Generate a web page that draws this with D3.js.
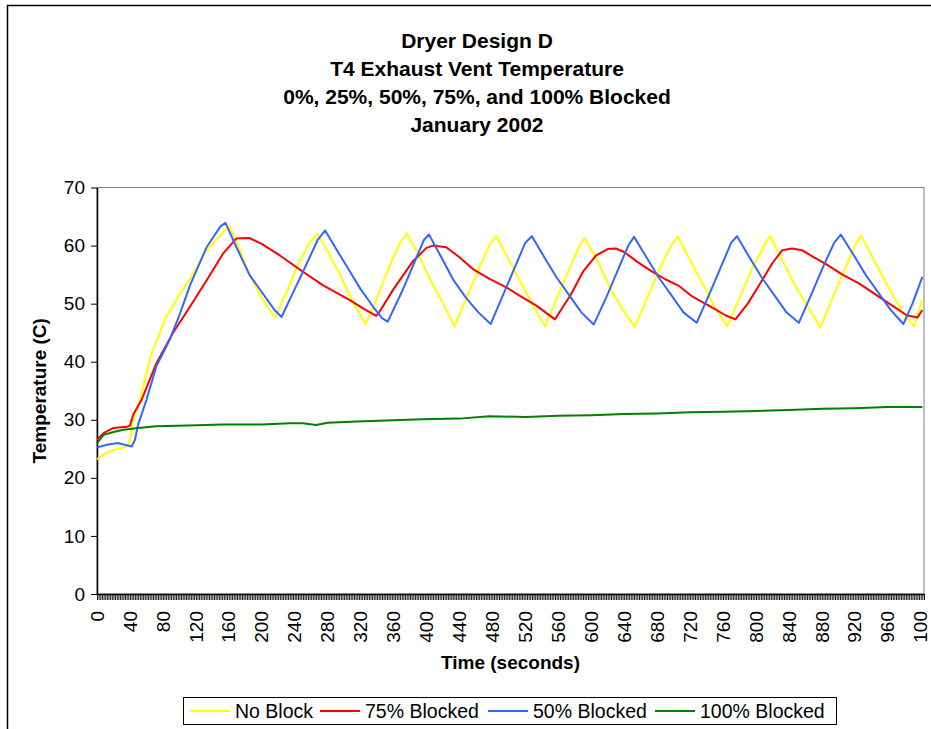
<!DOCTYPE html>
<html>
<head>
<meta charset="UTF-8">
<script src="https://d3js.org/d3.v7.min.js"></script>
<style>
  body { margin: 0; background: #fff; }
  text { font-family: "Liberation Sans", Arial, sans-serif; }
</style>
</head>
<body>
<svg></svg>
<script>
// [time (s), temperature (C)]
const noBlock = [[0,23.2],[10,24.2],[20,24.8],[36,25.4],[40,26.5],[44,30],[52,33.4],[66,41.4],[84,47.7],[100,51.5],[113,54.3],[133,59.2],[153,62.3],[161,63.3],[170,60.5],[185,55],[200,51],[216,47.6],[230,52],[245,57],[258,60.5],[268,62],[280,59],[295,55],[310,50.5],[326,46.5],[340,51],[355,56.5],[368,60.5],[376,62.1],[390,58.5],[405,54],[420,50],[434,46.1],[450,51.5],[465,56.5],[478,60.5],[485,61.6],[500,57.5],[515,53.5],[530,49.5],[544,46.1],[560,51.5],[575,56.5],[586,60],[592,61.3],[607,57.5],[622,53],[638,49],[653,46],[668,51],[683,56],[697,60],[705,61.6],[720,57.5],[735,53.5],[750,49.5],[765,46.1],[780,51],[795,56],[810,60],[817,61.7],[832,57.5],[848,53],[863,49.5],[878,45.9],[893,51],[908,56],[920,60],[928,61.7],[945,57],[962,52.5],[978,48.5],[992,46.1],[1002,50.6]];
const blocked75 = [[0,26.6],[8,27.7],[20,28.6],[36,28.8],[40,29],[44,30.9],[54,33.4],[72,39.7],[92,44.9],[113,49.5],[133,54],[153,58.6],[169,61.2],[185,61.3],[200,60.3],[222,58.3],[250,55.5],[274,53.2],[307,50.6],[325,49],[339,47.9],[343,48.6],[360,52.5],[383,57.2],[400,59.6],[408,60],[424,59.7],[440,58],[456,56],[476,54.3],[497,52.8],[515,51.2],[533,49.7],[556,47.3],[575,51.5],[590,55.5],[606,58.3],[620,59.4],[630,59.5],[640,58.9],[656,57.2],[674,55.5],[690,54.2],[707,53],[723,51.2],[745,49.5],[763,48],[775,47.3],[790,50],[804,53.2],[820,57],[832,59.2],[844,59.5],[856,59.2],[870,58],[884,56.9],[905,55],[925,53.5],[945,51.6],[965,49.7],[983,48],[996,47.6],[1002,48.9]];
const blocked50 = [[0,25.2],[12,25.7],[25,26],[42,25.4],[46,26.5],[50,29.2],[60,33.4],[72,39.2],[88,43.7],[100,48],[113,53.2],[133,59.7],[150,63.3],[156,63.9],[170,59.5],[185,55],[200,52],[215,49],[224,47.7],[240,52.5],[255,57],[268,61],[277,62.6],[290,59.5],[305,56],[320,52.5],[335,49.5],[346,47.5],[353,46.9],[370,52],[385,57],[397,61],[403,61.9],[418,58],[433,54],[448,51],[463,48.5],[478,46.5],[493,51.5],[508,56.5],[520,60.5],[528,61.6],[543,58],[558,54.5],[573,51.5],[588,48.5],[603,46.4],[618,51],[633,56],[645,60],[652,61.5],[667,58],[682,54.5],[697,51.5],[712,48.5],[728,46.7],[743,51.5],[758,56.5],[770,60.5],[777,61.6],[792,58],[807,54.5],[822,51.5],[837,48.5],[852,46.7],[867,51.5],[882,56.5],[895,60.5],[903,61.9],[918,58.5],[933,55],[948,52],[963,49],[979,46.5],[990,50],[1002,54.6]];
const blocked100 = [[0,26],[8,27.4],[20,27.9],[32,28.3],[50,28.6],[72,28.9],[110,29],[153,29.2],[200,29.2],[234,29.4],[250,29.4],[266,29.1],[280,29.5],[315,29.7],[360,29.9],[395,30.1],[440,30.2],[476,30.6],[520,30.5],[560,30.7],[600,30.8],[640,31],[680,31.1],[720,31.3],[760,31.4],[800,31.5],[840,31.7],[880,31.9],[920,32],[960,32.2],[1002,32.2]];

const seriesNames = ["No Block", "75% Blocked", "50% Blocked", "100% Blocked"];
const seriesColors = ["#ffff00", "#ff0000", "#3366ff", "#008000"];

const yTicks = [0, 10, 20, 30, 40, 50, 60, 70];
const xTickValues = [0,40,80,120,160,200,240,280,320,360,400,440,480,520,560,600,640,680,720,760,800,840,880,920,960,1000];
const xTickLabels = ["0","40","80","120","160","200","240","280","320","360","400","440","480","520","560","600","640","680","720","760","800","840","880","920","960","100"];

const titleLines = ["Dryer Design D", "T4 Exhaust Vent Temperature", "0%, 25%, 50%, 75%, and 100% Blocked", "January 2002"];

let width = 931, height = 729;
let svg = d3.select("svg").attr("width", width).attr("height", height);

// chart area border (runs off the right and bottom of the picture)
svg.append("rect")
    .attr("x", 7.5).attr("y", 5.5)
    .attr("width", 1000).attr("height", 1000)
    .attr("fill", "#fff").attr("stroke", "#000").attr("stroke-width", 1.5);

let plotLeft = 97, plotRight = 924, plotTop = 187.5, plotBottom = 594;

let x = d3.scaleLinear().domain([0, 1004]).range([plotLeft, plotRight]);
let y = d3.scaleLinear().domain([0, 70]).range([plotBottom, plotTop]);

// plot area border
svg.append("rect")
    .attr("x", plotLeft).attr("y", plotTop)
    .attr("width", plotRight - plotLeft).attr("height", plotBottom - plotTop)
    .attr("fill", "none").attr("stroke", "#808080").attr("stroke-width", 1);

// Title
svg.append("g")
    .selectAll("text")
    .data(titleLines)
    .enter()
    .append("text")
    .attr("x", 477)
    .attr("y", (d, i) => 48 + i * 28)
    .attr("text-anchor", "middle")
    .style("font-size", "21px")
    .style("font-weight", "bold")
    .text(d => d);

// Y axis
let yAxis = svg.append("g")
    .attr("transform", "translate(" + plotLeft + ",0)")
    .call(d3.axisLeft(y).tickValues(yTicks).tickSize(6).tickSizeOuter(0));
yAxis.select(".domain").attr("stroke", "#000").attr("stroke-width", 1.5);
yAxis.selectAll(".tick line").attr("stroke", "#000");
yAxis.selectAll(".tick text")
    .attr("x", -12)
    .style("font-size", "19px")
    .style("font-family", "Liberation Sans, Arial, sans-serif")
    .attr("fill", "#000");

// X axis: one tick per 2 s sample, labels every 40 s
let xMinor = svg.append("g")
    .attr("transform", "translate(0," + plotBottom + ")")
    .call(d3.axisBottom(x).tickValues(d3.range(0, 1005, 2)).tickSize(6).tickSizeOuter(0).tickFormat(""));
xMinor.select(".domain").attr("stroke", "#000").attr("stroke-width", 1.5);
xMinor.selectAll(".tick line").attr("stroke", "#000").attr("stroke-width", 0.9);

svg.append("g")
    .selectAll("text")
    .data(xTickValues)
    .enter()
    .append("text")
    .attr("transform", d => "translate(" + x(d) + "," + (plotBottom + 17) + ") rotate(-90)")
    .attr("text-anchor", "end")
    .attr("dy", "0.35em")
    .style("font-size", "19px")
    .text((d, i) => xTickLabels[i]);

// Axis titles
svg.append("text")
    .attr("x", (plotLeft + plotRight) / 2)
    .attr("y", 669)
    .attr("text-anchor", "middle")
    .style("font-size", "19px")
    .style("font-weight", "bold")
    .text("Time (seconds)");

svg.append("text")
    .attr("transform", "translate(46," + ((plotTop + plotBottom) / 2) + ") rotate(-90)")
    .attr("text-anchor", "middle")
    .style("font-size", "19px")
    .style("font-weight", "bold")
    .text("Temperature (C)");

// Lines
let line = d3.line().x(d => x(d[0])).y(d => y(d[1]));
let allSeries = [noBlock, blocked75, blocked50, blocked100];

svg.append("g")
    .selectAll("path")
    .data(allSeries)
    .enter()
    .append("path")
    .attr("d", d => line(d))
    .attr("fill", "none")
    .attr("stroke", (d, i) => seriesColors[i])
    .attr("stroke-width", 2)
    .attr("stroke-linejoin", "round");

// Legend
svg.append("rect")
    .attr("x", 183.5).attr("y", 697.5)
    .attr("width", 653).attr("height", 27)
    .attr("fill", "#fff").attr("stroke", "#000").attr("stroke-width", 1);

let legendX = [190, 320, 488, 655];
let legend = svg.append("g")
    .selectAll("g")
    .data(seriesNames)
    .enter()
    .append("g")
    .attr("transform", (d, i) => "translate(" + legendX[i] + ",711)");

legend.append("line")
    .attr("x1", 0).attr("x2", 40)
    .attr("stroke", (d, i) => seriesColors[i])
    .attr("stroke-width", 2);

legend.append("text")
    .attr("x", 45)
    .attr("dy", "0.35em")
    .style("font-size", "19.5px")
    .text(d => d);
</script>
</body>
</html>
